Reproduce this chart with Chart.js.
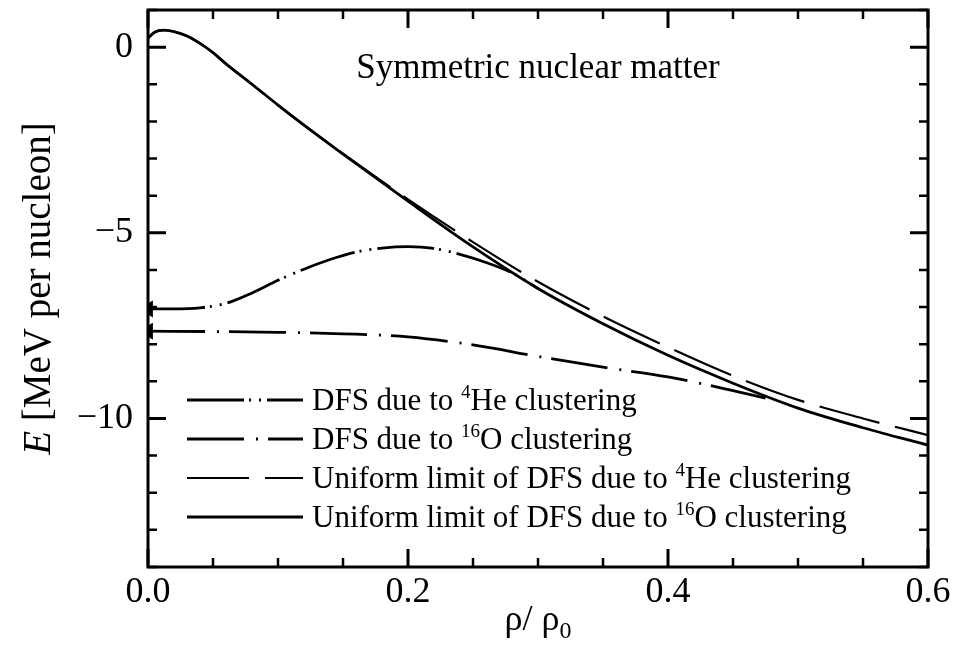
<!DOCTYPE html>
<html>
<head>
<meta charset="utf-8">
<script src="https://cdn.jsdelivr.net/npm/chart.js@4.4.1/dist/chart.umd.min.js"></script>
<style>
    html, body { margin: 0; padding: 0; background: #fff; }
    #wrap { width: 954px; height: 654px; }
</style>
</head>
<body>
<div id="wrap"><canvas id="chartEnergy"></canvas></div>
<script>
// values
const density = [0, 0.005, 0.012, 0.02, 0.03, 0.04, 0.05, 0.06, 0.08, 0.1, 0.12, 0.15, 0.2, 0.25, 0.3, 0.35, 0.4, 0.45, 0.5, 0.55, 0.6];
const uniformO16 = [0.24, 0.40, 0.46, 0.42, 0.30, 0.10, -0.15, -0.45, -1.0, -1.56, -2.1, -2.88, -4.15, -5.38, -6.5, -7.45, -8.3, -9.05, -9.72, -10.25, -10.72];
const uniformHe4 = [0.24, 0.40, 0.46, 0.42, 0.30, 0.10, -0.15, -0.45, -1.0, -1.56, -2.1, -2.87, -4.1, -5.25, -6.32, -7.25, -8.08, -8.85, -9.5, -10.0, -10.45];

const dfsHe4Density = [0, 0.02, 0.04, 0.06, 0.08, 0.1, 0.12, 0.14, 0.16, 0.18, 0.2, 0.22, 0.24, 0.26, 0.28, 0.3];
const dfsHe4 = [-7.05, -7.05, -7.02, -6.9, -6.62, -6.28, -5.98, -5.72, -5.52, -5.41, -5.37, -5.42, -5.58, -5.8, -6.08, -6.5];

const dfsO16Density = [0, 0.05, 0.1, 0.15, 0.2, 0.25, 0.3, 0.35, 0.4, 0.45, 0.475];
const dfsO16 = [-7.65, -7.66, -7.68, -7.72, -7.8, -8.02, -8.33, -8.62, -8.88, -9.25, -9.45];

const seriesLabels = [
    "DFS due to ^{4}He clustering",
    "DFS due to ^{16}O clustering",
    "Uniform limit of DFS due to ^{4}He clustering",
    "Uniform limit of DFS due to ^{16}O clustering"
];

const xTickValues = [0, 0.2, 0.4, 0.6];
const yTickValues = [-10, -5, 0];
const xMinorStep = 0.05;
const yMinorStep = 1;

const SERIF = "'Liberation Serif', 'Times New Roman', serif";

function toPoints(xs, ys) {
    return xs.map((x, i) => ({ x: x, y: ys[i] }));
}

// draws "text ^{sup} text" pieces, returns width
function drawRich(ctx, str, x, y, size) {
    const parts = str.split(/(\^\{[^}]*\})/).filter(p => p.length);
    let cx = x;
    parts.forEach(p => {
        let sup = p.startsWith("^{");
        let t = sup ? p.slice(2, -1) : p;
        ctx.font = (sup ? Math.round(size * 0.62) : size) + "px " + SERIF;
        ctx.fillText(t, cx, sup ? y - size * 0.38 : y);
        cx += ctx.measureText(t).width;
    });
    return cx - x;
}

const framePlugin = {
    id: "frame",
    afterDatasetsDraw(chart) {
        const ctx = chart.ctx;
        const a = chart.chartArea;
        const xs = chart.scales.x, ys = chart.scales.y;
        ctx.save();
        ctx.strokeStyle = "#000";
        ctx.lineWidth = 3;
        ctx.strokeRect(a.left, a.top, a.right - a.left, a.bottom - a.top);

        const xMajor = xTickValues[1] - xTickValues[0];
        for (let i = Math.ceil(xs.min / xMinorStep - 1e-6); i * xMinorStep <= xs.max + 1e-9; i++) {
            const v = i * xMinorStep;
            const major = Math.abs(v / xMajor - Math.round(v / xMajor)) < 1e-6;
            const len = major ? 18 : 9;
            const px = xs.getPixelForValue(v);
            ctx.lineWidth = major ? 3 : 2.5;
            ctx.beginPath();
            ctx.moveTo(px, a.bottom); ctx.lineTo(px, a.bottom - len);
            ctx.moveTo(px, a.top); ctx.lineTo(px, a.top + len);
            ctx.stroke();
        }
        const yMajor = yTickValues[1] - yTickValues[0];
        for (let i = Math.ceil(ys.min / yMinorStep); i * yMinorStep <= ys.max + 1e-9; i++) {
            const v = i * yMinorStep;
            const major = Math.abs(v / yMajor - Math.round(v / yMajor)) < 1e-6;
            const len = major ? 18 : 9;
            const py = ys.getPixelForValue(v);
            ctx.lineWidth = major ? 3 : 2.5;
            ctx.beginPath();
            ctx.moveTo(a.left, py); ctx.lineTo(a.left + len, py);
            ctx.moveTo(a.right, py); ctx.lineTo(a.right - len, py);
            ctx.stroke();
        }

        // legend inside the plot
        ctx.fillStyle = "#000";
        ctx.textBaseline = "alphabetic";
        ctx.textAlign = "left";
        chart.data.datasets.forEach((ds, i) => {
            const ly = a.bottom - 167 + i * 39;
            ctx.strokeStyle = "#000";
            ctx.lineWidth = ds.borderWidth;
            ctx.setLineDash(ds.borderDash || []);
            ctx.beginPath();
            ctx.moveTo(a.left + 39, ly);
            ctx.lineTo(a.left + 155, ly);
            ctx.stroke();
            ctx.setLineDash([]);
            drawRich(ctx, ds.label, a.left + 164, ly + 10, 31);
        });

        // panel title
        ctx.font = "35px " + SERIF;
        ctx.textAlign = "center";
        ctx.fillText("Symmetric nuclear matter", (a.left + a.right) / 2, a.top + 68);

        // x axis title
        ctx.textAlign = "left";
        ctx.font = "36px " + SERIF;
        const main = "\u03c1/ \u03c1";
        const w1 = ctx.measureText(main).width;
        ctx.font = "24px " + SERIF;
        const w2 = ctx.measureText("0").width;
        const x0 = (a.left + a.right) / 2 - (w1 + w2) / 2;
        ctx.font = "36px " + SERIF;
        ctx.fillText(main, x0, a.bottom + 63);
        ctx.font = "24px " + SERIF;
        ctx.fillText("0", x0 + w1, a.bottom + 71);

        // y axis title
        ctx.save();
        ctx.translate(50, (a.top + a.bottom) / 2);
        ctx.rotate(-Math.PI / 2);
        ctx.font = "italic 39px " + SERIF;
        const wE = ctx.measureText("E").width;
        ctx.font = "39px " + SERIF;
        const rest = " [MeV per nucleon]";
        const wR = ctx.measureText(rest).width;
        ctx.font = "italic 39px " + SERIF;
        ctx.fillText("E", -(wE + wR) / 2, 0);
        ctx.font = "39px " + SERIF;
        ctx.fillText(rest, -(wE + wR) / 2 + wE, 0);
        ctx.restore();

        ctx.restore();
    }
};

const arrowRadius = ctx => ctx.dataIndex === 0 ? 7 : 0;

new Chart(document.getElementById("chartEnergy"), {
    type: "line",
    data: {
        datasets: [{
            label: seriesLabels[0],
            data: toPoints(dfsHe4Density, dfsHe4),
            borderColor: "#000",
            backgroundColor: "#000",
            borderWidth: 2.8,
            borderDash: [57, 5, 2, 8, 2, 6],
            pointRadius: arrowRadius,
            pointStyle: "triangle",
            pointRotation: -90
        }, {
            label: seriesLabels[1],
            data: toPoints(dfsO16Density, dfsO16),
            borderColor: "#000",
            backgroundColor: "#000",
            borderWidth: 2.8,
            borderDash: [57, 12, 2, 10],
            pointRadius: arrowRadius,
            pointStyle: "triangle",
            pointRotation: -90
        }, {
            label: seriesLabels[2],
            data: toPoints(density, uniformHe4),
            borderColor: "#000",
            borderWidth: 2.2,
            borderDash: [62, 16],
            pointRadius: 0
        }, {
            label: seriesLabels[3],
            data: toPoints(density, uniformO16),
            borderColor: "#000",
            borderWidth: 2.8,
            pointRadius: 0
        }]
    },
    options: {
        responsive: true,
        maintainAspectRatio: false,
        animation: false,
        events: [],
        cubicInterpolationMode: "monotone",
        layout: {
            padding: { left: 0, right: 26, top: 10, bottom: 0 }
        },
        scales: {
            x: {
                type: "linear",
                min: 0,
                max: 0.6,
                afterBuildTicks: scale => { scale.ticks = xTickValues.map(v => ({ value: v })); },
                afterFit: scale => {
                    scale.height = 87;
                    scale.paddingLeft = 0;
                    scale.paddingRight = 0;
                },
                grid: { display: false, drawTicks: false },
                border: { display: false },
                ticks: {
                    padding: 4,
                    color: "#000",
                    font: { family: SERIF, size: 36 },
                    maxRotation: 0,
                    callback: v => v.toFixed(1)
                }
            },
            y: {
                type: "linear",
                min: -14,
                max: 1,
                afterBuildTicks: scale => { scale.ticks = yTickValues.map(v => ({ value: v })); },
                afterFit: scale => {
                    scale.width = 148;
                    scale.paddingTop = 0;
                    scale.paddingBottom = 0;
                },
                grid: { display: false, drawTicks: false },
                border: { display: false },
                ticks: {
                    padding: 15,
                    color: "#000",
                    font: { family: SERIF, size: 36 },
                    callback: v => String(v).replace("-", "\u2212")
                }
            }
        },
        plugins: {
            legend: { display: false },
            tooltip: { enabled: false }
        }
    },
    plugins: [framePlugin]
});
</script>
</body>
</html>
